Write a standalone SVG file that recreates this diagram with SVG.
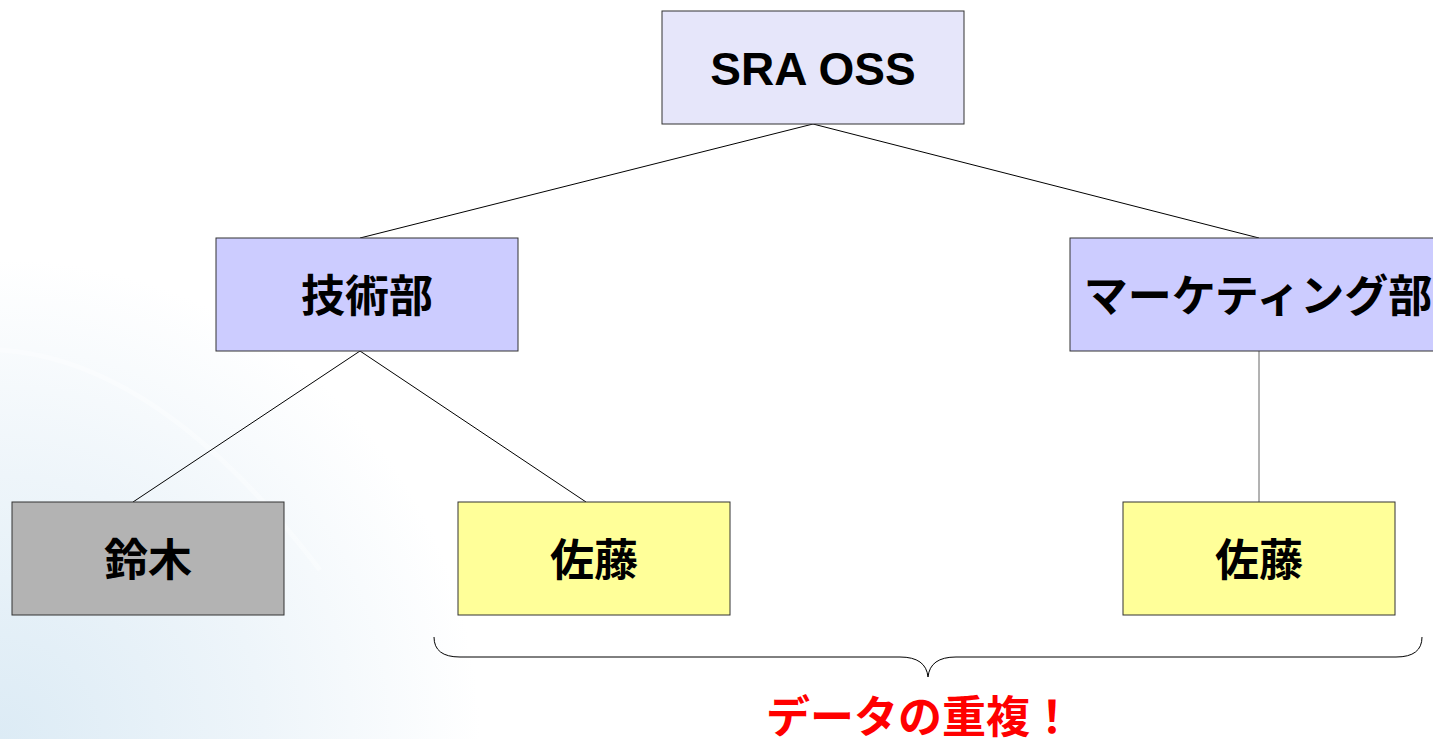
<svg xmlns="http://www.w3.org/2000/svg" width="1433" height="739" viewBox="0 0 1433 739">
<defs>
<radialGradient id="bg" cx="0" cy="739" r="480" gradientUnits="userSpaceOnUse">
<stop offset="0" stop-color="#dcebf5"/>
<stop offset="0.55" stop-color="#eef5fa"/>
<stop offset="1" stop-color="#ffffff"/>
</radialGradient>
<style>
.box{stroke:#333333;stroke-width:1}
.jp{font-family:"Noto Sans CJK JP","Noto Sans CJK SC",sans-serif;font-weight:bold;font-size:44px;text-anchor:middle;fill:#000}
.en{font-family:"Liberation Sans",Arial,sans-serif;font-weight:bold;font-size:46px;text-anchor:middle;fill:#000}
.ln{stroke:#000;stroke-width:1;fill:none}
</style>
</defs>
<rect width="1433" height="739" fill="#ffffff"/>
<rect width="1433" height="739" fill="url(#bg)"/>
<g fill="none" stroke="#ffffff" stroke-opacity="0.35" stroke-width="5">
<path d="M0 260 Q200 270 410 480"/>
<path d="M0 350 Q160 360 320 570"/>
</g>
<g id="connectors">
<line class="ln" x1="813" y1="124" x2="360" y2="238"/>
<line class="ln" x1="813" y1="124" x2="1259" y2="238"/>
<line class="ln" x1="360" y1="351" x2="133" y2="502"/>
<line class="ln" x1="360" y1="351" x2="586" y2="502"/>
<line x1="1259" y1="351" x2="1259" y2="502" stroke="#666" stroke-width="1"/>
</g>
<g id="n-sra">
<rect class="box" x="662" y="11" width="302" height="113" fill="#e6e6fa"/>
<text class="en" x="813" y="85">SRA OSS</text>
</g>
<g id="n-gijutsu">
<rect class="box" x="216" y="238" width="302" height="113" fill="#ccccff"/>
<text class="jp" x="367" y="312">技術部</text>
</g>
<g id="n-marketing">
<rect class="box" x="1070" y="238" width="378" height="113" fill="#ccccff"/>
<text class="jp" x="1258" y="312">マーケティング部</text>
</g>
<g id="n-suzuki">
<rect class="box" x="12" y="502" width="272" height="113" fill="#b3b3b3"/>
<text class="jp" x="148" y="576">鈴木</text>
</g>
<g id="n-sato1">
<rect class="box" x="458" y="502" width="272" height="113" fill="#ffff99"/>
<text class="jp" x="594" y="576">佐藤</text>
</g>
<g id="n-sato2">
<rect class="box" x="1123" y="502" width="272" height="113" fill="#ffff99"/>
<text class="jp" x="1259" y="576">佐藤</text>
</g>
<g id="brace">
<path class="ln" stroke="#222" d="M434 637 Q434 657 460 657 L900 657 Q926 657 928 677 Q930 657 956 657 L1396 657 Q1422 657 1422 637"/>
</g>
<g id="note">
<text class="jp" x="920" y="733" style="fill:#ff0000">データの重複！</text>
</g>
</svg>
